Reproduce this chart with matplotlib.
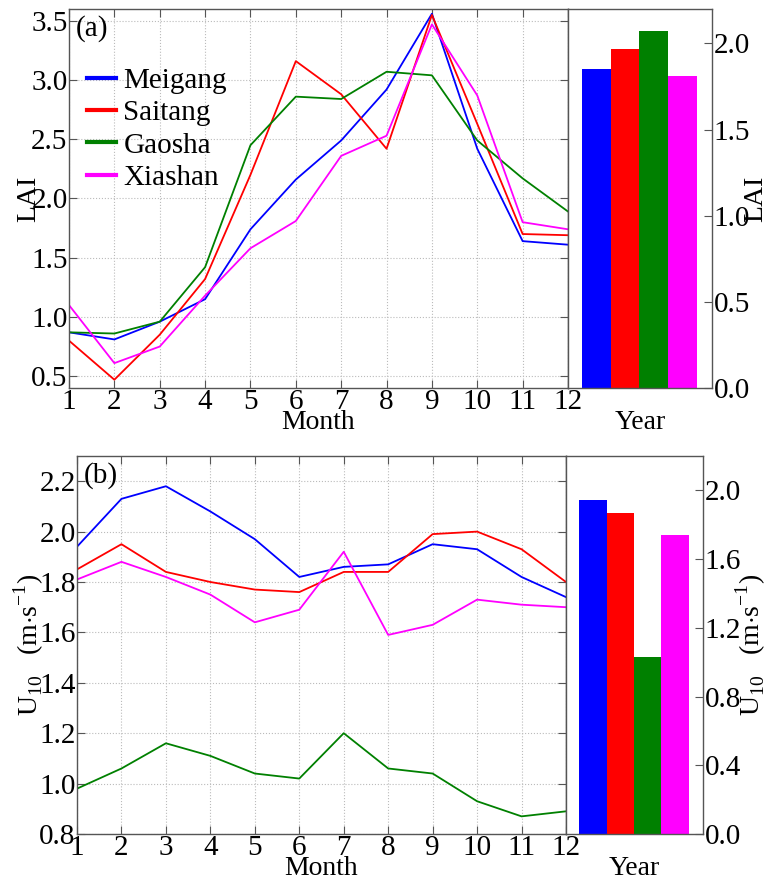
import numpy as np
import matplotlib
matplotlib.use('Agg')
import matplotlib.pyplot as plt

plt.rcParams['font.family'] = ['Liberation Serif', 'DejaVu Serif']
plt.rcParams['mathtext.fontset'] = 'custom'
plt.rcParams['mathtext.rm'] = 'Liberation Serif'

months = np.arange(1, 13)
stations = ['Meigang', 'Saitang', 'Gaosha', 'Xiashan']
colors = ['#0000ff', '#ff0000', '#008000', '#ff00ff']

# monthly mean LAI
lai_meigang = [0.87, 0.81, 0.96, 1.15, 1.74, 2.16, 2.49, 2.92, 3.56, 2.42, 1.64, 1.61]
lai_saitang = [0.80, 0.47, 0.85, 1.32, 2.20, 3.16, 2.88, 2.42, 3.55, 2.63, 1.70, 1.69]
lai_gaosha = [0.87, 0.86, 0.96, 1.42, 2.45, 2.86, 2.84, 3.07, 3.04, 2.49, 2.17, 1.89]
lai_xiashan = [1.10, 0.61, 0.75, 1.18, 1.58, 1.81, 2.36, 2.53, 3.47, 2.87, 1.80, 1.74]
lai_year = [1.85, 1.965, 2.07, 1.81]

# monthly mean 10 m wind speed
u10_meigang = [1.94, 2.13, 2.18, 2.08, 1.97, 1.82, 1.86, 1.87, 1.95, 1.93, 1.82, 1.74]
u10_saitang = [1.85, 1.95, 1.84, 1.80, 1.77, 1.76, 1.84, 1.84, 1.99, 2.00, 1.93, 1.80]
u10_gaosha = [0.98, 1.06, 1.16, 1.11, 1.04, 1.02, 1.20, 1.06, 1.04, 0.93, 0.87, 0.89]
u10_xiashan = [1.81, 1.88, 1.82, 1.75, 1.64, 1.69, 1.92, 1.59, 1.63, 1.73, 1.71, 1.70]
u10_year = [1.945, 1.87, 1.03, 1.74]

W, H = 770, 880
fig = plt.figure(figsize=(W / 100, H / 100), dpi=100)

def px_axes(l, r, t, b):
    return fig.add_axes([l / W, 1 - b / H, (r - l) / W, (b - t) / H])

spine_c = '#555555'
tick_fs = 21
lab_fs = 20

def style(ax):
    for s in ax.spines.values():
        s.set_color(spine_c)
        s.set_linewidth(1.0)
    ax.tick_params(direction='in', length=6, color=spine_c, labelsize=tick_fs, pad=1)

def line_panel(ax, series, ylim, yticks, ylabel, tag, ypad, legend=False):
    for vals, c, name in zip(series, colors, stations):
        ax.plot(months, vals, color=c, lw=1.3, label=name)
    ax.set_xlim(1, 12)
    ax.set_ylim(*ylim)
    ax.set_xticks(months)
    ax.set_yticks(yticks)
    ax.set_yticklabels([f'{v:.1f}' for v in yticks])
    ax.grid(True, color='#bbbbbb', ls=':', lw=0.8)
    style(ax)
    ax.tick_params(top=True, right=True)
    ax.set_xlabel('Month', fontsize=lab_fs, labelpad=-4)
    ax.set_ylabel(ylabel, fontsize=lab_fs, labelpad=ypad)
    ax.text(0.014, 0.985, tag, transform=ax.transAxes, fontsize=tick_fs, va='top', ha='left')
    if legend:
        ax.legend(loc='upper left', bbox_to_anchor=(0.036, 0.845), frameon=False,
                  prop={'family': 'Liberation Serif', 'size': 21},
                  handlelength=1.0, handletextpad=0.25, labelspacing=0.2,
                  borderpad=0, borderaxespad=0)
        for h in ax.get_legend().get_lines():
            h.set_linewidth(3)

def bar_panel(ax, vals, ylim, yticks, ylabel):
    ax.bar(np.arange(4), vals, width=1.0, color=colors)
    ax.set_xlim(-0.98, 4.02)
    ax.set_ylim(*ylim)
    ax.set_xticks([])
    ax.set_yticks(yticks)
    ax.set_yticklabels([f'{v:.1f}' for v in yticks])
    ax.yaxis.tick_right()
    ax.yaxis.set_label_position('right')
    style(ax)
    ax.tick_params(axis='y', left=False, right=True)
    ax.set_xlabel('Year', fontsize=lab_fs, labelpad=16)
    ax.set_ylabel(ylabel, fontsize=lab_fs, labelpad=-5)

# (a) LAI
ax1 = px_axes(69, 568, 9, 388)
line_panel(ax1, [lai_meigang, lai_saitang, lai_gaosha, lai_xiashan],
           (0.4, 3.6), np.arange(0.5, 3.51, 0.5), 'LAI', '(a)', -7, legend=True)
ax2 = px_axes(568, 712, 9, 388)
bar_panel(ax2, lai_year, (0, 2.2), np.arange(0, 2.01, 0.5), 'LAI')

# (b) U10
u_label = r'U$_{10}$   (m$\cdot$s$^{-1}$)'
ax3 = px_axes(77, 566, 456, 834)
line_panel(ax3, [u10_meigang, u10_saitang, u10_gaosha, u10_xiashan],
           (0.8, 2.3), np.arange(0.8, 2.21, 0.2), u_label, '(b)', -5)
ax4 = px_axes(566, 703, 456, 834)
bar_panel(ax4, u10_year, (0, 2.2), np.arange(0, 2.01, 0.4), u_label)

fig.savefig('out.png', dpi=100)
